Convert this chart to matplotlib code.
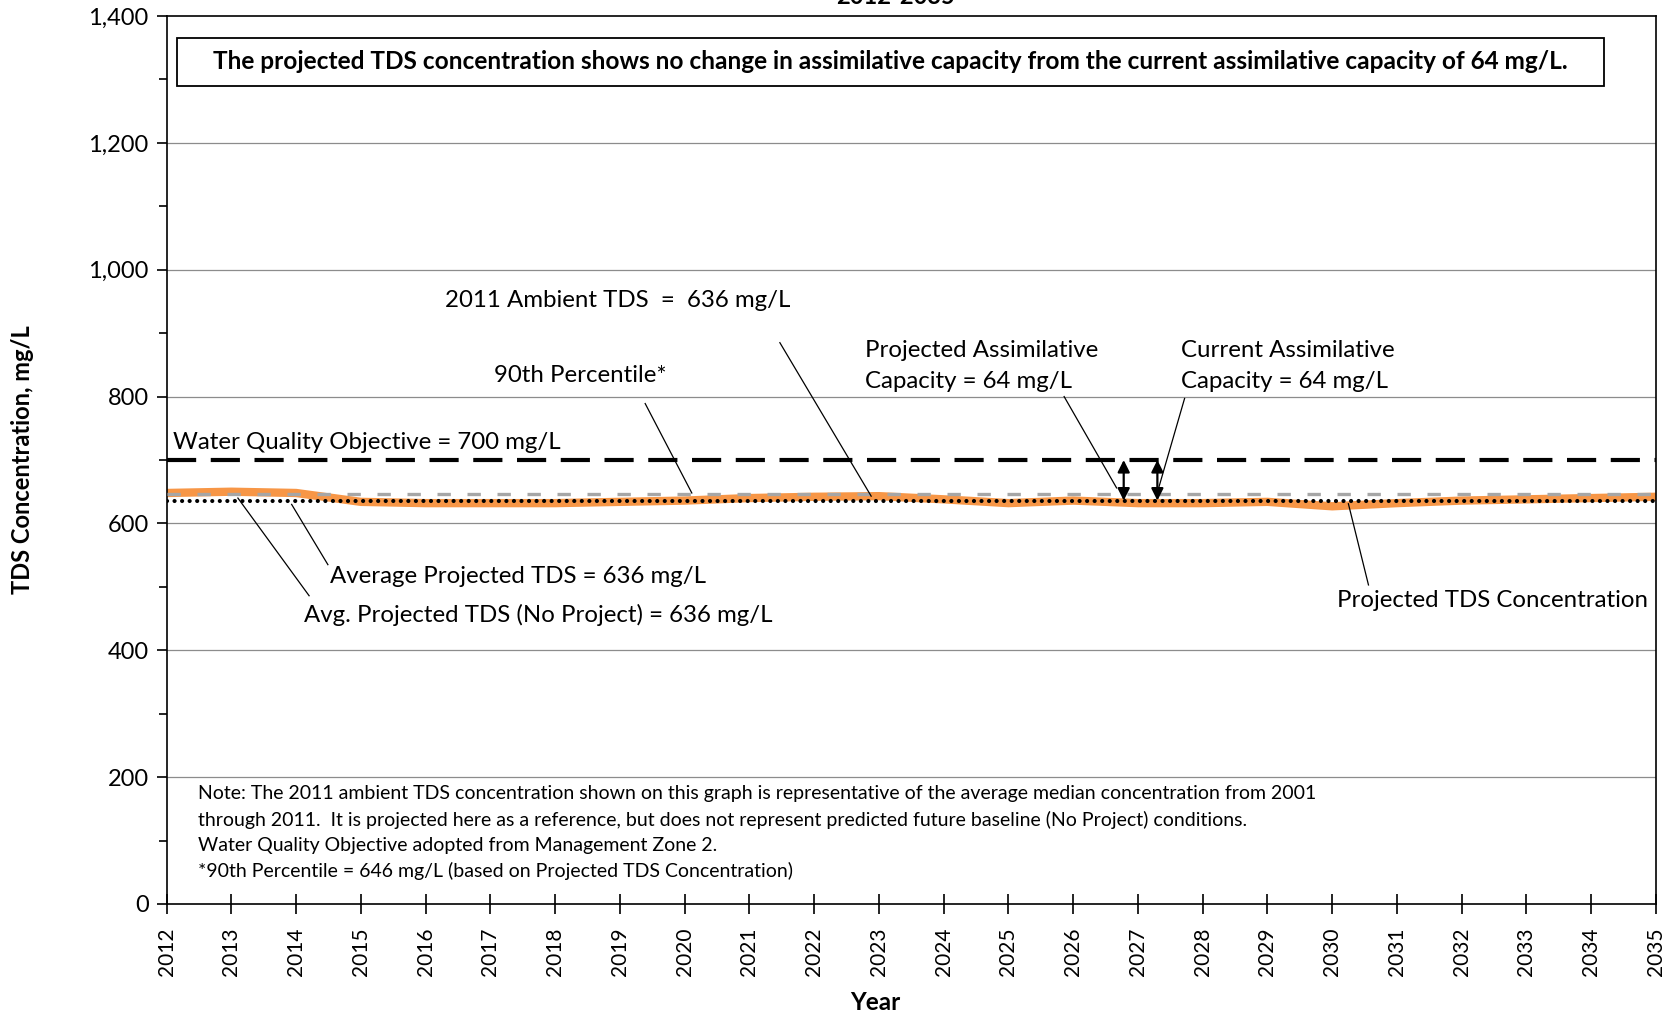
import matplotlib
matplotlib.use("Agg")
import matplotlib.pyplot as plt
from matplotlib.patches import Rectangle
import numpy as np

plt.rcParams['font.family'] = ['Lato', 'DejaVu Sans']

years = list(range(2012, 2036))
projected_tds = [648, 650, 648, 634, 632, 632, 632, 634, 636, 640, 642, 643,
                 638, 632, 636, 632, 632, 634, 627, 632, 636, 638, 640, 642]
wqo = 700
p90 = 646
avg_projected = 636
ambient_2011 = 636
assim_arrow_years = [2026.78, 2027.3]

yticks = [0, 200, 400, 600, 800, 1000, 1200, 1400]

fig = plt.figure(figsize=(16.8, 10.14), dpi=100)
ax = fig.add_axes([0.0992, 0.1085, 0.8865, 0.8757])

ax.set_xlim(2012, 2035)
ax.set_ylim(0, 1400)

for y in yticks[1:-1]:
    ax.axhline(y, color='#8c8c8c', lw=0.9, zorder=0)

ax.plot(years, projected_tds, color='#F79646', lw=6, solid_capstyle='butt', zorder=2)
ax.plot([2012, 2035], [p90, p90], color='#A6A6A6', lw=2.4, dashes=(4, 5), zorder=3)
ax.plot([2012, 2035], [avg_projected, avg_projected], color='black', lw=3,
        dashes=(0.01, 1.8), dash_capstyle='round', zorder=4)
ax.plot([2012, 2035], [wqo, wqo], color='black', lw=3, dashes=(7, 3.5), zorder=3)

for xa in assim_arrow_years:
    ax.annotate('', xy=(xa, avg_projected), xytext=(xa, wqo),
                arrowprops=dict(arrowstyle='<|-|>', color='black', lw=1.6,
                                mutation_scale=18, shrinkA=0, shrinkB=0), zorder=5)

fs = 17.3
def label(text, xy_text, line_from, line_to, **kw):
    ax.text(xy_text[0], xy_text[1], text, fontsize=fs, va='center', ha='left', **kw)
    if line_from is not None:
        ax.plot([line_from[0], line_to[0]], [line_from[1], line_to[1]],
                color='black', lw=0.9, zorder=6)

label('2011 Ambient TDS  =  636 mg/L', (2016.3, 951), (2021.47, 885), (2022.88, 643))
label('90th Percentile*', (2017.06, 833), (2019.39, 789), (2020.11, 648))
label('Water Quality Objective = 700 mg/L', (2012.1, 727), None, None)
label('Projected Assimilative\nCapacity = 64 mg/L', (2022.78, 848), (2025.86, 800), (2026.67, 656),
      linespacing=1.55)
label('Current Assimilative\nCapacity = 64 mg/L', (2027.66, 848), (2027.72, 797), (2027.32, 656),
      linespacing=1.55)
label('Average Projected TDS = 636 mg/L', (2014.53, 516), (2014.49, 535), (2013.93, 630))
label('Avg. Projected TDS (No Project) = 636 mg/L', (2014.12, 456), (2014.2, 486), (2013.1, 640))
label('Projected TDS Concentration', (2030.08, 478), (2030.56, 503), (2030.25, 631))

notes = ['Note: The 2011 ambient TDS concentration shown on this graph is representative of the average median concentration from 2001',
         'through 2011.  It is projected here as a reference, but does not represent predicted future baseline (No Project) conditions.',
         'Water Quality Objective adopted from Management Zone 2.',
         '*90th Percentile = 646 mg/L (based on Projected TDS Concentration)']
for i, n in enumerate(notes):
    ax.text(2012.48, 173.5 - 40.7 * i, n, fontsize=14, va='center', ha='left')

ax.add_patch(Rectangle((0.0069, 0.9214), 0.9581, 0.0544, transform=ax.transAxes,
                       fc='white', ec='black', lw=1.3, zorder=7))
ax.text(0.486, 0.9486,
        'The projected TDS concentration shows no change in assimilative capacity from the current assimilative capacity of 64 mg/L.',
        transform=ax.transAxes, fontsize=17.6, fontweight='bold', ha='center', va='center',
        zorder=8)

ax.set_xticks(years)
ax.set_xticklabels([str(y) for y in years], rotation=90, fontsize=15)
ax.set_yticks(yticks)
ax.set_yticklabels([f'{y:,}' for y in yticks], fontsize=17)
ax.set_yticks(np.arange(100, 1400, 200), minor=True)
ax.tick_params(axis='x', direction='inout', length=14, width=1.2, pad=10)
ax.tick_params(axis='y', which='major', direction='out', length=7, width=1.2, pad=6)
ax.tick_params(axis='y', which='minor', direction='out', length=6, width=1.2)
for s in ax.spines.values():
    s.set_linewidth(1.2)

ax.set_ylabel('TDS Concentration, mg/L', fontsize=17, fontweight='bold')
ax.yaxis.set_label_coords(-0.089, 0.5)
ax.set_xlabel('Year', fontsize=17.5, fontweight='bold')
ax.xaxis.set_label_coords(0.4756, -0.098)

fig.text(0.533, 1 - 4 / 1014, '2012-2035', fontsize=17, fontweight='bold',
         ha='center', va='baseline')

fig.savefig('out.png', dpi=100)
